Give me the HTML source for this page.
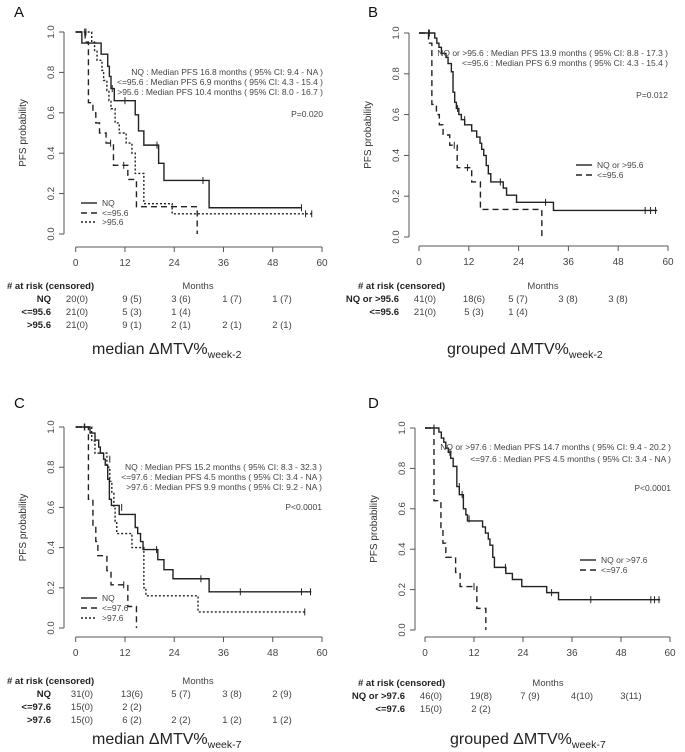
<!DOCTYPE html>
<html><head><meta charset="utf-8"><style>
html,body{margin:0;padding:0;background:#fff;}
svg{display:block;font-family:"Liberation Sans",Arial,sans-serif;}
</style></head><body>
<svg id="fig" width="685" height="752" viewBox="0 0 685 752" xmlns="http://www.w3.org/2000/svg"></svg>
<script>
// ---- Panel A data ----
const aNqT=[1.5,6.2,7.8,8.2,8.6,9.4,14.5,15.3,16.6,20.2,21.5,32.5];
const aNqS=[0.945,0.89,0.83,0.78,0.72,0.66,0.59,0.51,0.44,0.35,0.265,0.13];
const aNqEnd=55;
const aNqCt=[2.2,12,19.8,31,55]; const aNqCs=[1,0.66,0.44,0.265,0.13];
const aLoT=[2.3,3.1,4.2,4.9,5.8,7.4,9.2,12.7,14.8,29.6];
const aLoS=[0.95,0.65,0.6,0.55,0.5,0.45,0.34,0.27,0.135,0];
const aLoEnd=29.6;
const aLoCt=[2.5,8.5,11.7]; const aLoCs=[1,0.45,0.34];
const aHiT=[3.9,4.6,5.2,6.4,6.8,7.6,8.1,8.6,9.6,10.6,12.3,13.7,14.5,16.6,23.5];
const aHiS=[0.95,0.905,0.86,0.81,0.76,0.71,0.66,0.62,0.55,0.5,0.45,0.4,0.3,0.15,0.1];
const aHiEnd=57.5;
const aHiCt=[8.9,56,57.5]; const aHiCs=[0.72,0.1,0.1];
// ---- Panel B data ----
const bNqT=[3.8,4.3,4.8,5.4,6.5,7.0,7.8,8.2,8.6,9.0,9.6,10.2,11.0,12.7,13.9,14.7,15.1,15.6,16.2,16.7,17.3,20.3,21.1,23.5,32.4];
const bNqS=[0.975,0.95,0.93,0.9,0.88,0.85,0.81,0.71,0.66,0.63,0.6,0.575,0.55,0.52,0.49,0.46,0.43,0.4,0.35,0.31,0.27,0.24,0.205,0.17,0.13];
const bNqEnd=57.4;
const bNqCt=[2.3,9.3,11,19.6,30.5,54.5,55.8,57]; const bNqCs=[1,0.63,0.575,0.27,0.17,0.13,0.13,0.13];
const bLoT=[2.3,3.1,4.2,4.9,5.8,7.4,9.2,12.7,14.8,29.6];
const bLoS=[0.95,0.65,0.6,0.55,0.5,0.45,0.34,0.27,0.135,0];
const bLoEnd=29.6;
const bLoCt=[2.5,8.5,11.7]; const bLoCs=[1,0.45,0.34];
// ---- Panel C data ----
const cNqT=[3.5,4.7,5.6,6.0,6.8,7.2,7.8,8.2,8.7,10.6,14.5,15.1,15.8,16.4,20.0,21.5,23.7,32.5];
const cNqS=[0.97,0.935,0.9,0.87,0.84,0.81,0.74,0.64,0.61,0.565,0.5,0.47,0.43,0.39,0.34,0.29,0.245,0.18];
const cNqEnd=57.4;
const cNqCt=[2.1,8.3,11.2,19.7,30.5,40.1,55,57.2]; const cNqCs=[1,0.84,0.6,0.39,0.245,0.18,0.18,0.18];
const cLoT=[3.1,4.2,4.9,5.4,7.6,8.6,12.7,14.8];
const cLoS=[0.64,0.5,0.43,0.36,0.285,0.215,0.107,0];
const cLoEnd=14.8;
const cLoCt=[2.2,11.7]; const cLoCs=[1,0.215];
const cHiT=[3.9,4.7,7.6,8.3,8.8,9.3,9.6,10.0,13.7,16.6,17.1,29.8];
const cHiS=[0.93,0.87,0.8,0.73,0.67,0.6,0.53,0.47,0.4,0.2,0.16,0.08];
const cHiEnd=55.8;
const cHiCt=[55.8]; const cHiCs=[0.08];
// ---- Panel D data ----
const dNqT=[3.4,4.0,4.6,5.1,5.7,6.3,6.9,7.8,8.4,9.4,10.0,10.4,14.1,14.8,15.5,15.9,16.6,17.0,19.8,21.4,23.7,29.8,32.7];
const dNqS=[0.98,0.95,0.93,0.9,0.88,0.85,0.81,0.71,0.67,0.6,0.57,0.54,0.51,0.48,0.45,0.42,0.36,0.31,0.28,0.25,0.215,0.185,0.15];
const dNqEnd=57.6;
const dNqCt=[2.2,6.1,8.4,9.1,10.8,19.7,31,40.6,55.3,56.2,57.3]; const dNqCs=[1,0.88,0.71,0.67,0.55,0.31,0.185,0.15,0.15,0.15,0.15];
const dLoT=[2.2,3.9,4.4,5.1,7.5,8.6,12.7,14.9];
const dLoS=[0.64,0.5,0.43,0.36,0.285,0.215,0.107,0];
const dLoEnd=14.9;
const dLoCt=[2.2,12]; const dLoCs=[1,0.215];
// ---- axis ticks ----
const xTicks=[0,12,24,36,48,60];
const yTicks=[0,0.2,0.4,0.6,0.8,1.0];
const yTickLabels=["0.0","0.2","0.4","0.6","0.8","1.0"];

const NS="http://www.w3.org/2000/svg";
const svg=document.getElementById('fig');
function el(tag,attrs,parent,text){const e=document.createElementNS(NS,tag);for(const k in attrs)e.setAttribute(k,attrs[k]);if(text!==undefined)e.textContent=text;(parent||svg).appendChild(e);return e;}

function panel(P){
  const g=el('g',{});
  
  
  const X=t=>P.x0+t*(P.x60-P.x0)/60;
  const Y=s=>P.y0+s*(P.y1-P.y0);
  const lbl=el('text',{x:P.lx,y:P.ly,'font-size':15,fill:'#111'},g,P.id);
  
  
  const ya=el('line',{x1:P.ax,x2:P.ax,y1:Y(0),y2:Y(1),stroke:'#555','stroke-width':1},g);
  
  
  yTicks.forEach((v,i)=>{
    el('line',{x1:P.ax-5,x2:P.ax,y1:Y(v),y2:Y(v),stroke:'#555'},g);
    const t=el('text',{x:0,y:0,'font-size':9.5,fill:'#444','text-anchor':'middle',transform:`translate(${P.ax-10},${Y(v)}) rotate(-90)`},g,yTickLabels[i]);
    
    
  });
  const yl=el('text',{x:0,y:0,'font-size':10,fill:'#333','text-anchor':'middle',transform:`translate(${P.ax-38},${(Y(0)+Y(1))/2}) rotate(-90)`},g,'PFS  probability');
  
  
  const xa=el('line',{x1:X(0),x2:X(60),y1:P.axy,y2:P.axy,stroke:'#555'},g);
  
  
  xTicks.forEach(v=>{
    el('line',{x1:X(v),x2:X(v),y1:P.axy,y2:P.axy+5,stroke:'#555'},g);
    const t=el('text',{x:X(v),y:P.axy+19,'font-size':10,fill:'#444','text-anchor':'middle'},g,String(v));
    
    
  });
  P.curves.forEach(c=>{
    let d=`M${X(0)},${Y(1)}`;
    c.t.forEach((t,i)=>{d+=` H${X(t)} V${Y(c.s[i])}`;});
    d+=` H${X(c.end)}`;
    const p=el('path',{d:d,fill:'none',stroke:'#222','stroke-width':1.4,'stroke-dasharray':c.dash},g);
    
    
    c.ct.forEach((t,i)=>{
      const m=el('path',{d:`M${X(t)},${Y(c.cs[i])-3.5} v7`,stroke:'#222','stroke-width':1},g);
      
      
    });
  });
  P.notes.forEach((n,i)=>{
    const t=el('text',{x:P.nx,y:P.ny[i],'font-size':8.5,fill:'#444','text-anchor':'end'},g,n);
    
    
  });
  const pv=el('text',{x:P.nx,y:P.py,'font-size':8.5,fill:'#444','text-anchor':'end'},g,P.p);
  
  
  P.leg.forEach((L,i)=>{
    const y=P.legy[i];
    el('line',{x1:P.legx,x2:P.legx+16,y1:y,y2:y,stroke:'#222','stroke-width':1.4,'stroke-dasharray':L.dash},g);
    const t=el('text',{x:P.legx+21,y:y+3,'font-size':8.5,fill:'#444'},g,L.label);
    
    
  });
  const h=el('text',{x:P.rhx,y:P.rty,'font-size':9.5,'font-weight':'bold',fill:'#222'},g,'# at risk (censored)');
  
  
  const mo=el('text',{x:P.mox,y:P.rty,'font-size':9.5,fill:'#444','text-anchor':'middle'},g,'Months');
  
  
  P.rows.forEach((r,i)=>{
    const y=P.rty+13*(i+1);
    const t=el('text',{x:P.rlx,y:y,'font-size':9.5,'font-weight':'bold',fill:'#222','text-anchor':'end'},g,r.label);
    
    
    r.vals.forEach((v,j)=>{
      const c=el('text',{x:P.cols[j],y:y,'font-size':9.5,fill:'#444','text-anchor':'middle'},g,v);
      
      
    });
  });
  const cap=el('text',{x:P.capx,y:P.capy,'font-size':16,fill:'#222'},g);
  
  
  el('tspan',{},cap,P.cap);
  el('tspan',{'font-size':10.5,dy:4},cap,P.sub);
}

const dashed='6,4', dotted='2,2';
panel({id:'A',lx:14,ly:17,x0:75.7,x60:322,y0:234,y1:32,ax:64,axy:247,
  curves:[{name:'nq',t:aNqT,s:aNqS,end:aNqEnd,ct:aNqCt,cs:aNqCs,dash:'none'},
          {name:'le-95-6',t:aLoT,s:aLoS,end:aLoEnd,ct:aLoCt,cs:aLoCs,dash:dashed},
          {name:'gt-95-6',t:aHiT,s:aHiS,end:aHiEnd,ct:aHiCt,cs:aHiCs,dash:dotted}],
  notes:['NQ : Median  PFS 16.8  months ( 95% CI: 9.4 - NA )','<=95.6 : Median  PFS 6.9  months ( 95% CI: 4.3 - 15.4 )','>95.6 : Median  PFS 10.4  months ( 95% CI: 8.0 - 16.7 )'],
  nx:323,ny:[75,85,95],p:'P=0.020',py:117,
  leg:[{label:'NQ',dash:'none'},{label:'<=95.6',dash:dashed},{label:'>95.6',dash:dotted}],legx:81,legy:[203,213,222],
  rhx:7,rty:289,mox:198,rlx:51,cols:[77,132,181,232,282],
  rows:[{label:'NQ',vals:['20(0)','9 (5)','3 (6)','1 (7)','1 (7)']},{label:'<=95.6',vals:['21(0)','5 (3)','1 (4)']},{label:'>95.6',vals:['21(0)','9 (1)','2 (1)','2 (1)','2 (1)']}],
  cap:'median ΔMTV%',sub:'week-2',capx:92,capy:354});
panel({id:'B',lx:368,ly:17,x0:419,x60:668,y0:237,y1:33,ax:409,axy:246,
  curves:[{name:'nq-or-gt-95-6',t:bNqT,s:bNqS,end:bNqEnd,ct:bNqCt,cs:bNqCs,dash:'none'},
          {name:'le-95-6',t:bLoT,s:bLoS,end:bLoEnd,ct:bLoCt,cs:bLoCs,dash:dashed}],
  notes:['NQ or >95.6 : Median  PFS 13.9  months ( 95% CI: 8.8 - 17.3 )','<=95.6 : Median  PFS 6.9  months ( 95% CI: 4.3 - 15.4 )'],
  nx:668,ny:[56,66],p:'P=0.012',py:98,
  leg:[{label:'NQ or >95.6',dash:'none'},{label:'<=95.6',dash:dashed}],legx:576,legy:[165,175],
  rhx:358,rty:289,mox:543,rlx:399,cols:[425,474,518,568,618],
  rows:[{label:'NQ or >95.6',vals:['41(0)','18(6)','5 (7)','3 (8)','3 (8)']},{label:'<=95.6',vals:['21(0)','5 (3)','1 (4)']}],
  cap:'grouped ΔMTV%',sub:'week-2',capx:447,capy:354});
panel({id:'C',lx:14,ly:408,x0:75.7,x60:322,y0:628,y1:427,ax:64,axy:637,
  curves:[{name:'nq',t:cNqT,s:cNqS,end:cNqEnd,ct:cNqCt,cs:cNqCs,dash:'none'},
          {name:'le-97-6',t:cLoT,s:cLoS,end:cLoEnd,ct:cLoCt,cs:cLoCs,dash:dashed},
          {name:'gt-97-6',t:cHiT,s:cHiS,end:cHiEnd,ct:cHiCt,cs:cHiCs,dash:dotted}],
  notes:['NQ : Median  PFS 15.2  months ( 95% CI: 8.3 - 32.3 )','<=97.6 : Median  PFS 4.5  months ( 95% CI: 3.4 - NA )','>97.6 : Median  PFS 9.9  months ( 95% CI: 9.2 - NA )'],
  nx:322,ny:[470,480,490],p:'P<0.0001',py:510,
  leg:[{label:'NQ',dash:'none'},{label:'<=97.6',dash:dashed},{label:'>97.6',dash:dotted}],legx:81,legy:[598,608,618],
  rhx:7,rty:684,mox:198,rlx:51,cols:[82,132,181,232,282],
  rows:[{label:'NQ',vals:['31(0)','13(6)','5 (7)','3 (8)','2 (9)']},{label:'<=97.6',vals:['15(0)','2 (2)']},{label:'>97.6',vals:['15(0)','6 (2)','2 (2)','1 (2)','1 (2)']}],
  cap:'median ΔMTV%',sub:'week-7',capx:92,capy:744});
panel({id:'D',lx:368,ly:408,x0:425,x60:670,y0:630,y1:428,ax:415,axy:637,
  curves:[{name:'nq-or-gt-97-6',t:dNqT,s:dNqS,end:dNqEnd,ct:dNqCt,cs:dNqCs,dash:'none'},
          {name:'le-97-6',t:dLoT,s:dLoS,end:dLoEnd,ct:dLoCt,cs:dLoCs,dash:dashed}],
  notes:['NQ or >97.6 : Median  PFS 14.7  months ( 95% CI: 9.4 - 20.2 )','<=97.6 : Median  PFS 4.5  months ( 95% CI: 3.4 - NA )'],
  nx:671,ny:[450,462],p:'P<0.0001',py:491,
  leg:[{label:'NQ or >97.6',dash:'none'},{label:'<=97.6',dash:dashed}],legx:580,legy:[560,570],
  rhx:358,rty:686,mox:548,rlx:405,cols:[431,481,530,582,631],
  rows:[{label:'NQ or >97.6',vals:['46(0)','19(8)','7 (9)','4(10)','3(11)']},{label:'<=97.6',vals:['15(0)','2 (2)']}],
  cap:'grouped ΔMTV%',sub:'week-7',capx:450,capy:744});
</script>
</body></html>
